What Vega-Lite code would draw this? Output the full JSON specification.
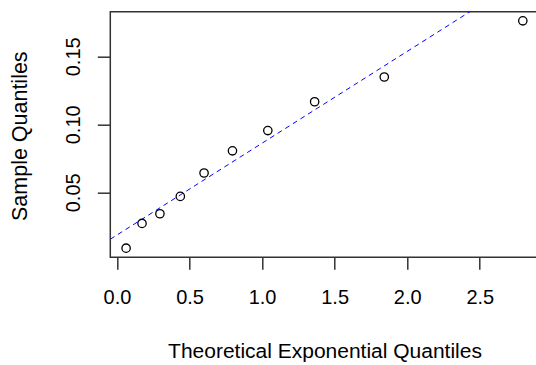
{
  "$schema": "https://vega.github.io/schema/vega-lite/v6.json",
  "width": 428.4,
  "height": 245.6,
  "autosize": {"type": "none"},
  "padding": {"left": 110.3, "top": 11.7, "right": 0, "bottom": 107.7},
  "background": "white",
  "config": {
    "view": {"stroke": "#333333", "strokeWidth": 1.5},
    "font": "Liberation Sans"
  },
  "datasets": {
    "pts": [
      {"theoretical": 0.0629, "sample": 0.0089},
      {"theoretical": 0.1726, "sample": 0.0271},
      {"theoretical": 0.2959, "sample": 0.0342},
      {"theoretical": 0.4365, "sample": 0.0470},
      {"theoretical": 0.6001, "sample": 0.0642},
      {"theoretical": 0.7958, "sample": 0.0805},
      {"theoretical": 1.0395, "sample": 0.0954},
      {"theoretical": 1.3621, "sample": 0.1166},
      {"theoretical": 1.8420, "sample": 0.1348},
      {"theoretical": 2.7966, "sample": 0.1761}
    ],
    "ref": [
      {"theoretical": -0.046, "sample": 0.0155},
      {"theoretical": 2.906, "sample": 0.2148}
    ]
  },
  "layer": [
    {
      "data": {"name": "ref"},
      "mark": {"type": "line", "color": "#0000FF", "strokeWidth": 1, "strokeDash": [5, 4], "clip": true},
      "encoding": {
        "x": {"field": "theoretical", "type": "quantitative"},
        "y": {"field": "sample", "type": "quantitative"}
      }
    },
    {
      "data": {"name": "pts"},
      "mark": {"type": "point", "shape": "circle", "filled": false, "color": "#000000", "size": 70, "strokeWidth": 1.3, "opacity": 1},
      "encoding": {
        "x": {
          "field": "theoretical", "type": "quantitative",
          "scale": {"domain": [-0.046, 2.906], "nice": false, "zero": false},
          "axis": {
            "values": [0, 0.5, 1, 1.5, 2, 2.5], "format": ".1f",
            "grid": false, "domain": false,
            "tickSize": 12, "tickColor": "#333333", "tickWidth": 1.5,
            "labelPadding": 18, "labelFontSize": 20, "labelColor": "#000000", "labelFont": "Liberation Sans",
            "title": "Theoretical Exponential Quantiles",
            "titleFontSize": 21, "titleFontWeight": "normal", "titleColor": "#000000", "titleFont": "Liberation Sans",
            "titleBaseline": "alphabetic", "titleY": 100.7
          }
        },
        "y": {
          "field": "sample", "type": "quantitative",
          "scale": {"domain": [0.0022, 0.1828], "nice": false, "zero": false},
          "axis": {
            "values": [0.05, 0.1, 0.15], "format": ".2f",
            "grid": false, "domain": false,
            "tickSize": 13, "tickColor": "#333333", "tickWidth": 1.5,
            "labelAngle": 270, "labelAlign": "center", "labelBaseline": "alphabetic",
            "labelPadding": 18, "labelFontSize": 20, "labelColor": "#000000", "labelFont": "Liberation Sans",
            "title": "Sample Quantiles",
            "titleFontSize": 21.5, "titleFontWeight": "normal", "titleColor": "#000000", "titleFont": "Liberation Sans",
            "titleAngle": 270, "titleAlign": "center", "titleBaseline": "alphabetic",
            "titleX": -84, "titleY": 124
          }
        }
      }
    }
  ]
}
